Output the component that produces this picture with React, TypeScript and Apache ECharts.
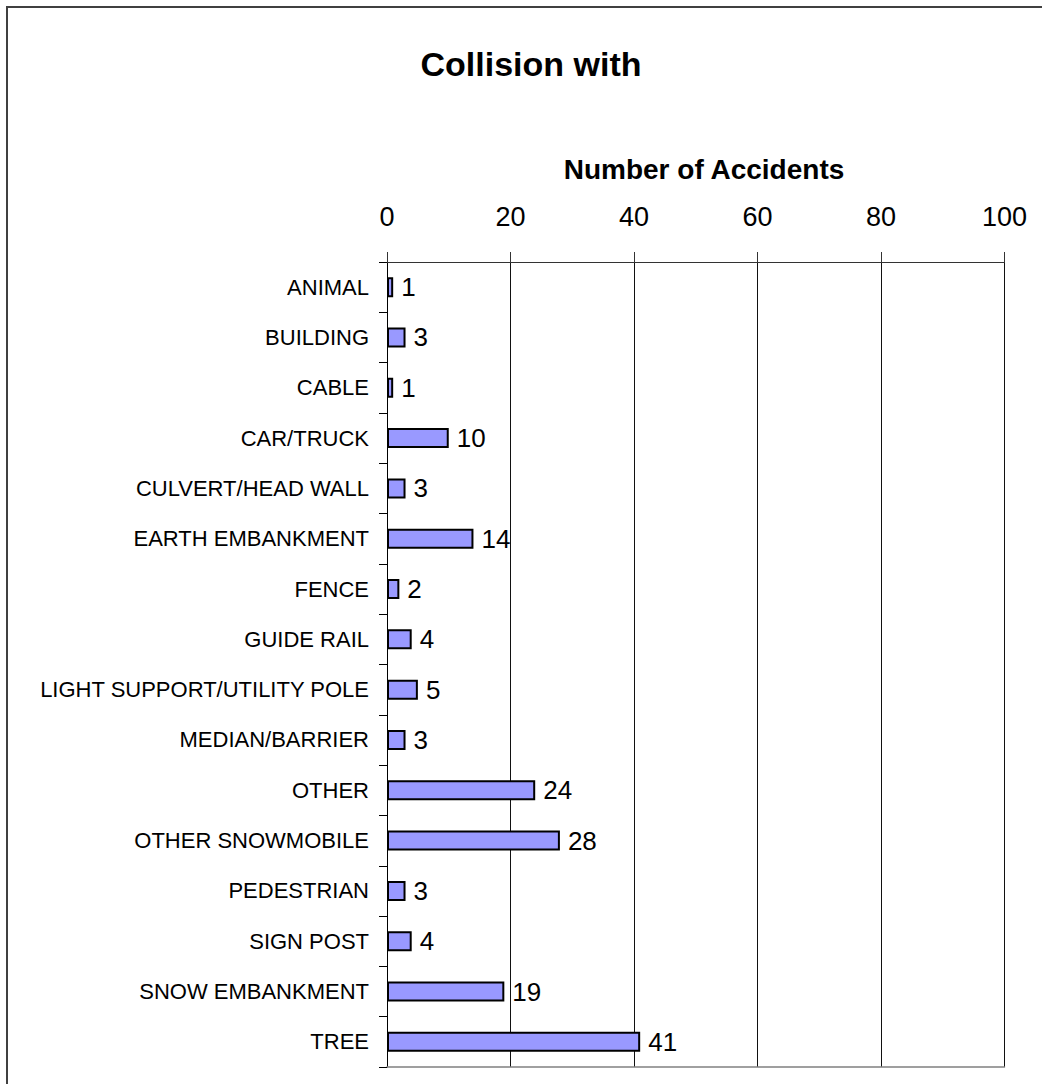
import React, { useEffect, useRef } from "react";
import * as echarts from "echarts";

const categories = [
  "ANIMAL",
  "BUILDING",
  "CABLE",
  "CAR/TRUCK",
  "CULVERT/HEAD WALL",
  "EARTH EMBANKMENT",
  "FENCE",
  "GUIDE RAIL",
  "LIGHT SUPPORT/UTILITY POLE",
  "MEDIAN/BARRIER",
  "OTHER",
  "OTHER SNOWMOBILE",
  "PEDESTRIAN",
  "SIGN POST",
  "SNOW EMBANKMENT",
  "TREE",
];
const accidents = [1, 3, 1, 10, 3, 14, 2, 4, 5, 3, 24, 28, 3, 4, 19, 41];
const chartTitle = "Collision with";
const axisTitle = "Number of Accidents";
const xMin = 0;
const xMax = 100;
const xStep = 20;

const FONT = "'Liberation Sans', Arial, sans-serif";

export default function App() {
  const ref = useRef<HTMLDivElement>(null);
  useEffect(() => {
    if (!ref.current) return;
    const chart = echarts.init(ref.current, null, { renderer: "svg" });
    chart.setOption({
      animation: false,
      backgroundColor: "#ffffff",
      textStyle: { fontFamily: FONT },
      grid: { left: 387, right: 37.5, top: 262, bottom: 17, containLabel: false },
      graphic: [
        {
          type: "rect",
          shape: { x: 7, y: 7, width: 2000, height: 2000 },
          style: { fill: "none", stroke: "#404040", lineWidth: 2 },
          silent: true,
        },
        {
          type: "text",
          x: 531,
          y: 64,
          style: {
            text: chartTitle,
            fontFamily: FONT,
            fontSize: 34,
            fontWeight: "bold",
            fill: "#000",
            textAlign: "center",
            textVerticalAlign: "middle",
          },
        },
        {
          type: "text",
          x: 704,
          y: 169,
          style: {
            text: axisTitle,
            fontFamily: FONT,
            fontSize: 28,
            fontWeight: "bold",
            fill: "#000",
            textAlign: "center",
            textVerticalAlign: "middle",
          },
        },
      ],
      xAxis: [
        {
          type: "value",
          position: "top",
          min: xMin,
          max: xMax,
          interval: xStep,
          axisLine: { show: true, lineStyle: { color: "#333", width: 1 } },
          axisTick: { show: true, length: 10, inside: false, lineStyle: { color: "#333", width: 1 } },
          axisLabel: { fontSize: 27, color: "#000", margin: 32, fontFamily: FONT },
          splitLine: { show: true, lineStyle: { color: "#111", width: 1 } },
        },
        {
          type: "value",
          position: "bottom",
          min: xMin,
          max: xMax,
          interval: xStep,
          axisLine: { show: true, lineStyle: { color: "#808080", width: 1.5 } },
          axisTick: { show: false },
          axisLabel: { show: false },
          splitLine: { show: false },
        },
      ],
      yAxis: {
        type: "category",
        data: categories,
        inverse: true,
        axisLine: { show: true, lineStyle: { color: "#000", width: 1 } },
        axisTick: { show: true, length: 8, alignWithLabel: false, interval: 0, lineStyle: { color: "#000" } },
        axisLabel: { fontSize: 22, color: "#000", margin: 18, interval: 0, fontFamily: FONT },
        splitLine: { show: false },
      },
      series: [
        {
          type: "bar",
          xAxisIndex: 0,
          data: accidents,
          barWidth: 20,
          itemStyle: { color: "#9999FF", borderColor: "#000", borderWidth: 2 },
          label: {
            show: true,
            position: "right",
            distance: 8,
            fontSize: 26,
            color: "#000",
            fontFamily: FONT,
          },
        },
      ],
    });
    return () => chart.dispose();
  }, []);
  return (
    <div
      ref={ref}
      style={{ position: "absolute", left: 0, top: 0, width: 1042, height: 1084 }}
    />
  );
}
